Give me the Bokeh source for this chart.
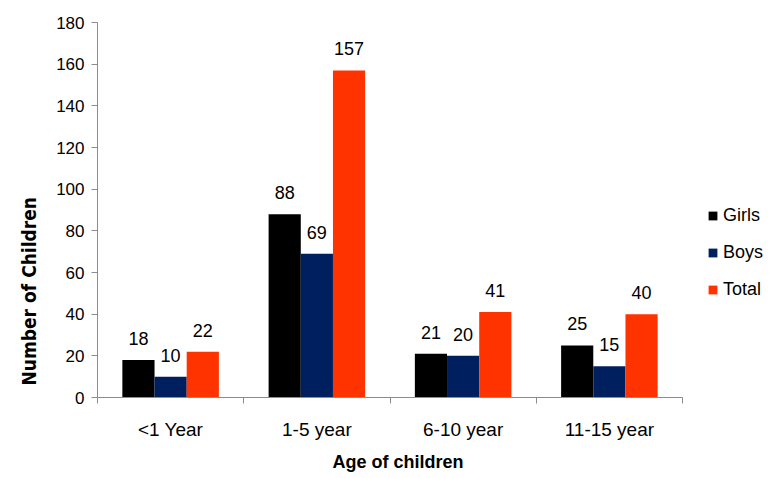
from bokeh.plotting import figure
from bokeh.models import ColumnDataSource, LabelSet, FixedTicker, Range1d, Legend, LegendItem, Title
from bokeh.core.properties import value
from bokeh.embed import file_html
from bokeh.resources import INLINE

categories = ["<1 Year", "1-5 year", "6-10 year", "11-15 year"]
girls = [18, 88, 21, 25]
boys = [10, 69, 20, 15]
total = [22, 157, 41, 40]
series_names = ["Girls", "Boys", "Total"]
colors = ["#000000", "#001f5f", "#ff3300"]
x_title = "Age of children"
y_title = "Number of Children"

n = len(categories)
centers = [i + 0.5 for i in range(n)]
bw = 0.22
offsets = [-bw, 0.0, bw]

# frame extends to the right edge so the legend sits inside it; axis line is bounded
p = figure(width=771, height=478, output_backend="svg", toolbar_location=None,
           x_range=Range1d(0, n * 674 / 585), y_range=Range1d(0, 180),
           min_border_left=97, min_border_right=0, min_border_top=22, min_border_bottom=81)
p.outline_line_color = None
p.xgrid.visible = False
p.ygrid.visible = False

renderers = []
for vals, name, col, off in zip([girls, boys, total], series_names, colors, offsets):
    src = ColumnDataSource(dict(x=[c + off for c in centers], top=vals,
                                lab=[str(v) for v in vals]))
    r = p.vbar(x="x", top="top", width=bw, source=src, fill_color=col, line_color=None)
    renderers.append((name, r))
    p.add_layout(LabelSet(x="x", y="top", text="lab", source=src, text_align="center",
                          text_baseline="alphabetic", y_offset=15, text_font_size="18px",
                          text_font=value("Liberation Sans"), text_color="#000000"))

# axes
axis_col = "#8c8c8c"
p.yaxis.ticker = FixedTicker(ticks=list(range(0, 181, 20)))
p.yaxis.axis_line_color = axis_col
p.yaxis.major_tick_line_color = axis_col
p.yaxis.major_tick_in = 0
p.yaxis.major_tick_out = 6
p.yaxis.minor_tick_line_color = None
p.yaxis.major_label_text_font = "Liberation Sans"
p.yaxis.major_label_text_font_size = "17px"
p.yaxis.major_label_text_color = "#000000"
p.yaxis.major_label_standoff = 7

p.xaxis.bounds = (0, n)
p.xaxis.ticker = FixedTicker(ticks=centers, minor_ticks=list(range(0, n + 1)))
p.xaxis.major_label_overrides = {c: lab for c, lab in zip(centers, categories)}
p.xaxis.axis_line_color = axis_col
p.xaxis.major_tick_line_color = None
p.xaxis.minor_tick_line_color = axis_col
p.xaxis.minor_tick_in = 0
p.xaxis.minor_tick_out = 6
p.xaxis.major_label_text_font = "Liberation Sans"
p.xaxis.major_label_text_font_size = "19px"
p.xaxis.major_label_text_color = "#000000"
p.xaxis.major_label_standoff = 15

p.add_layout(Title(text=x_title, align="left", offset=235, standoff=14,
                   text_font="Liberation Sans", text_font_style="bold",
                   text_font_size="18px", text_color="#000000"), "below")
p.add_layout(Title(text=y_title, align="left", offset=12, standoff=28,
                   text_font="'DejaVu Sans Condensed', 'Liberation Sans Narrow', 'Noto Sans'",
                   text_font_style="bold", text_font_size="19px", text_color="#000000"), "left")

legend = Legend(items=[LegendItem(label=nm, renderers=[r]) for nm, r in renderers],
                location=(610, 97), glyph_width=11, glyph_height=11,
                label_text_font="Liberation Sans", label_text_font_size="18px",
                label_text_color="#000000", spacing=16, padding=0, margin=0,
                border_line_color=None, background_fill_alpha=0, label_standoff=5)
p.add_layout(legend, "center")

open("out.html", "w").write(file_html(p, INLINE))
